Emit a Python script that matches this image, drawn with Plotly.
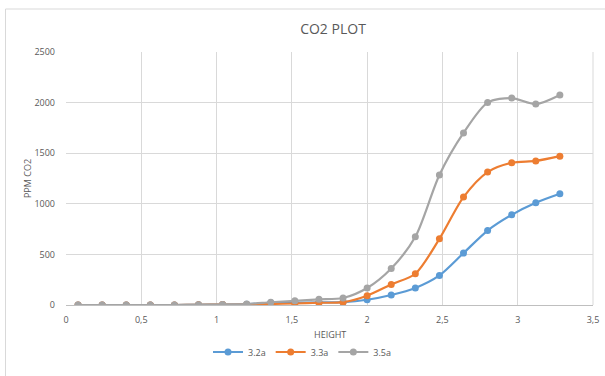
import plotly.graph_objects as go

height = [0.08, 0.24, 0.40, 0.56, 0.72, 0.88, 1.04, 1.20, 1.36, 1.52, 1.68,
          1.84, 2.00, 2.16, 2.32, 2.48, 2.64, 2.80, 2.96, 3.12, 3.28]
s32a = [0, 0, 0, 0, 0, 2, 4, 8, 22, 24, 25, 28, 52, 99, 168, 292, 513, 736, 891, 1010, 1099]
s33a = [0, 0, 0, 0, 0, 2, 4, 6, 10, 15, 22, 28, 92, 203, 309, 654, 1066, 1313, 1405, 1424, 1471]
s35a = [0, 0, 0, 0, 0, 3, 5, 10, 27, 42, 56, 69, 168, 361, 674, 1285, 1700, 2000, 2045, 1985, 2075]

series = [("3.2a", s32a, "#5B9BD5"), ("3.3a", s33a, "#ED7D31"), ("3.5a", s35a, "#A5A5A5")]

xticks = [0, 0.5, 1, 1.5, 2, 2.5, 3, 3.5]
xticktext = ["0", "0,5", "1", "1,5", "2", "2,5", "3", "3,5"]
yticks = [0, 500, 1000, 1500, 2000, 2500]

fig = go.Figure()
for name, vals, col in series:
    fig.add_trace(go.Scatter(
        x=height, y=vals, name=name, mode="lines+markers",
        line=dict(color=col, width=2.2, shape="spline", smoothing=0.8),
        marker=dict(color=col, size=7),
    ))

W, H = 605, 376
ml, mr, mt, mb = 65.5, 12.4, 52, 71
pw, ph = W - ml - mr, H - mt - mb

def px(xp):
    return (xp - ml) / pw

def py(yp):
    return (H - mb - yp) / ph

fig.update_layout(
    width=W, height=H,
    margin=dict(l=ml, r=mr, t=mt, b=mb, autoexpand=False),
    paper_bgcolor="white", plot_bgcolor="white",
    font=dict(family="Open Sans, sans-serif", color="#595959", size=9),
    title=dict(text="CO2 PLOT", x=333 / W, xanchor="center", y=1 - 29 / H, yanchor="middle",
               font=dict(size=14, color="#595959")),
    xaxis=dict(range=[0, 3.5], tickvals=xticks, ticktext=xticktext,
               showgrid=True, gridcolor="#D9D9D9", gridwidth=1,
               zeroline=False, showline=False, ticks="", automargin=False,
               ticklabelstandoff=8,
               tickfont=dict(size=9, color="#595959")),
    yaxis=dict(range=[0, 2500], tickvals=yticks,
               showgrid=True, gridcolor="#D9D9D9", gridwidth=1,
               zeroline=True, zerolinecolor="#BFBFBF", zerolinewidth=1,
               showline=False, ticks="", automargin=False,
               ticklabelstandoff=10,
               title=dict(text="PPM CO2", font=dict(size=9, color="#595959"), standoff=1),
               tickfont=dict(size=9, color="#595959")),
    legend=dict(orientation="h", xref="container", yref="container",
                x=0.5, xanchor="center", y=1 - 352 / H, yanchor="middle",
                itemwidth=30,
                font=dict(size=9, color="#595959")),
    showlegend=True,
    annotations=[dict(text="HEIGHT", xref="paper", yref="paper",
                      x=0.5, y=py(334), xanchor="center", yanchor="middle",
                      showarrow=False, font=dict(size=9, color="#595959"))],
    shapes=[dict(type="rect", xref="paper", yref="paper",
                 x0=px(5), x1=px(640), y0=py(420), y1=py(9),
                 line=dict(color="#D9D9D9", width=1), layer="below"),
            dict(type="line", xref="paper", yref="paper", x0=1, x1=1, y0=0, y1=1,
                 line=dict(color="#D9D9D9", width=1))],
)

fig.write_html("out.html", config={"displayModeBar": False},
               post_script="document.body.style.margin='0';")
